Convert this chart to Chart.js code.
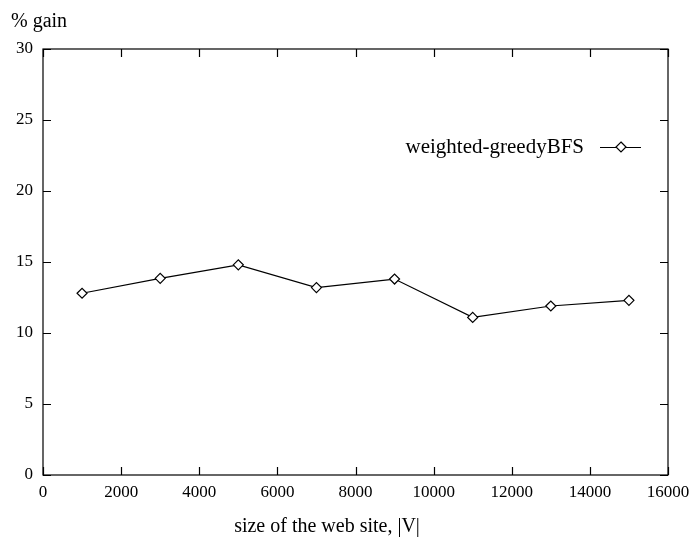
<!DOCTYPE html>
<html>
<head>
<meta charset="utf-8">
<script src="https://cdn.jsdelivr.net/npm/chart.js@4"></script>
<style>
  html, body { margin: 0; padding: 0; background: #fff; }
  #wrap { width: 692px; height: 540px; }
</style>
</head>
<body>
<div id="wrap"><canvas id="chart" width="692" height="540"></canvas></div>
<script>
// values
const siteSizes = [1000, 3000, 5000, 7000, 9000, 11000, 13000, 15000];
const gainWeightedGreedyBFS = [12.8, 13.85, 14.8, 13.2, 13.8, 11.1, 11.9, 12.3];
const seriesName = 'weighted-greedyBFS';
const xTitle = 'size of the web site, |V|';
const yTitle = '% gain';

const FONT = '"Liberation Serif", "DejaVu Serif", serif';

// gnuplot-like frame: border on all four sides, tick marks pointing inward
const framePlugin = {
  id: 'frame',
  afterDatasetsDraw(chart) {
    const { ctx, chartArea: a, scales } = chart;
    const len = 8;
    ctx.save();
    ctx.strokeStyle = '#000';
    ctx.lineWidth = 1.2;
    ctx.strokeRect(a.left, a.top, a.right - a.left, a.bottom - a.top);
    ctx.beginPath();
    scales.x.ticks.forEach(t => {
      const px = Math.round(scales.x.getPixelForValue(t.value)) + 0.5;
      ctx.moveTo(px, a.bottom); ctx.lineTo(px, a.bottom - len);
      ctx.moveTo(px, a.top); ctx.lineTo(px, a.top + len);
    });
    scales.y.ticks.forEach(t => {
      const py = Math.round(scales.y.getPixelForValue(t.value)) + 0.5;
      ctx.moveTo(a.left, py); ctx.lineTo(a.left + len, py);
      ctx.moveTo(a.right, py); ctx.lineTo(a.right - len, py);
    });
    ctx.stroke();

    // axis titles
    ctx.fillStyle = '#000';
    ctx.font = '20px ' + FONT;
    ctx.textBaseline = 'middle';
    ctx.textAlign = 'left';
    ctx.fillText(yTitle, 11, 22);
    ctx.textAlign = 'center';
    ctx.fillText(xTitle, 327, 527);

    // key, text first then sample
    const ky = 147;
    ctx.font = '21px ' + FONT;
    ctx.textAlign = 'right';
    ctx.fillText(seriesName, 584, ky);
    ctx.beginPath();
    ctx.moveTo(600, ky + 0.5); ctx.lineTo(641, ky + 0.5);
    ctx.stroke();
    ctx.beginPath();
    const cx = 621, r = 5;
    ctx.moveTo(cx, ky - r); ctx.lineTo(cx + r, ky); ctx.lineTo(cx, ky + r); ctx.lineTo(cx - r, ky); ctx.closePath();
    ctx.fillStyle = '#fff';
    ctx.fill();
    ctx.stroke();
    ctx.restore();
  }
};

new Chart(document.getElementById('chart'), {
  type: 'scatter',
  data: {
    datasets: [{
      label: seriesName,
      data: siteSizes.map((x, i) => ({ x: x, y: gainWeightedGreedyBFS[i] })),
      showLine: true,
      borderColor: '#000',
      borderWidth: 1.2,
      pointStyle: 'rectRot',
      pointRadius: 5,
      pointBackgroundColor: '#fff',
      pointBorderColor: '#000',
      pointBorderWidth: 1.2,
      tension: 0
    }]
  },
  options: {
    responsive: false,
    animation: false,
    layout: { padding: { top: 49, right: 24, left: 0, bottom: 0 } },
    plugins: {
      legend: { display: false },
      tooltip: { enabled: false }
    },
    scales: {
      x: {
        type: 'linear',
        min: 0,
        max: 16000,
        ticks: {
          stepSize: 2000, color: '#000', padding: 7, maxRotation: 0,
          font: { family: FONT, size: 17 },
          callback: v => String(v)
        },
        grid: { display: false, drawTicks: false },
        border: { display: false },
        afterFit(s) { s.height = 65; s.paddingLeft = 0; s.paddingRight = 0; }
      },
      y: {
        min: 0,
        max: 30,
        ticks: {
          stepSize: 5, color: '#000', padding: 10,
          font: { family: FONT, size: 17 },
          callback: v => String(v)
        },
        grid: { display: false, drawTicks: false },
        border: { display: false },
        afterFit(s) { s.width = 43; s.paddingTop = 0; s.paddingBottom = 0; }
      }
    }
  },
  plugins: [framePlugin]
});
</script>
</body>
</html>
